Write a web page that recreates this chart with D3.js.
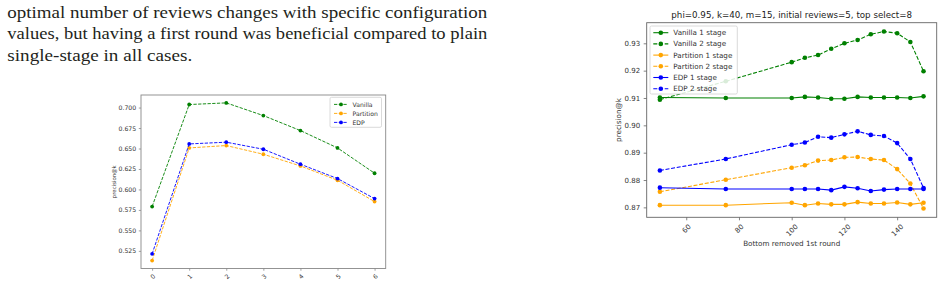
<!DOCTYPE html>
<html><head><meta charset="utf-8">
<script src="https://cdn.jsdelivr.net/npm/d3@7"></script>
<style>html,body{margin:0;padding:0;background:#fff;} svg{display:block;}</style>
</head><body><svg id="c" width="944" height="282"></svg>
<script>
// ---------- data ----------
const paragraphLines = [
  "optimal number of reviews changes with specific configuration",
  "values, but having a first round was beneficial compared to plain",
  "single-stage in all cases."
];

const leftCategories = [0, 1, 2, 3, 4, 5, 6];
const leftVanilla   = [0.5791, 0.7037, 0.7057, 0.6902, 0.6719, 0.6507, 0.6198];
const leftPartition = [0.5131, 0.6507, 0.6536, 0.6430, 0.6287, 0.6112, 0.5852];
const leftEDP       = [0.5213, 0.6556, 0.6577, 0.6491, 0.6308, 0.6133, 0.5888];
const leftYTicks = [0.525, 0.550, 0.575, 0.600, 0.625, 0.650, 0.675, 0.700];
const leftNames = ["Vanilla", "Partition", "EDP"];
const leftYLabel = "precision@k";

const rightX = [50, 75, 100, 105, 110, 115, 120, 125, 130, 135, 140, 145, 150];
const vanilla1   = [0.9102, 0.9100, 0.9100, 0.9104, 0.9102, 0.9097, 0.9097, 0.9104, 0.9102, 0.9102, 0.9102, 0.9100, 0.9106];
const vanilla2   = [0.9094, 0.9161, 0.9231, 0.9247, 0.9257, 0.9280, 0.9300, 0.9312, 0.9333, 0.9343, 0.9337, 0.9305, 0.9198];
const partition1 = [0.8708, 0.8708, 0.8717, 0.8708, 0.8714, 0.8711, 0.8711, 0.8719, 0.8714, 0.8714, 0.8718, 0.8711, 0.8717];
const partition2 = [0.8757, 0.8801, 0.8845, 0.8854, 0.8871, 0.8873, 0.8883, 0.8884, 0.8877, 0.8873, 0.8840, 0.8787, 0.8696];
const edp1       = [0.8772, 0.8767, 0.8767, 0.8767, 0.8767, 0.8763, 0.8775, 0.8770, 0.8760, 0.8765, 0.8767, 0.8767, 0.8767];
const edp2       = [0.8835, 0.8877, 0.8929, 0.8937, 0.8958, 0.8955, 0.8967, 0.8978, 0.8965, 0.8961, 0.8935, 0.8877, 0.8771];
const rightXTicks = [60, 80, 100, 120, 140];
const rightYTicks = [0.87, 0.88, 0.89, 0.90, 0.91, 0.92, 0.93];
const rightNames = ["Vanilla 1 stage", "Vanilla 2 stage", "Partition 1 stage", "Partition 2 stage", "EDP 1 stage", "EDP 2 stage"];
const rightTitle = "phi=0.95, k=40, m=15, initial reviews=5, top select=8";
const rightXLabel = "Bottom removed 1st round";
const rightYLabel = "precision@k";

// ---------- drawing ----------
const svg = d3.select("#c");
svg.append("rect").attr("width", 944).attr("height", 282).attr("fill", "#fff");

// paragraph
const para = svg.append("g").attr("font-family", "'Liberation Serif', 'DejaVu Serif', serif")
  .attr("font-size", 17).attr("fill", "#231f20");
const paraBase = [17.7, 39.4, 61.1];
const paraLen = [480, 480, 185];
paragraphLines.forEach((t, i) => {
  para.append("text").attr("x", 7.3).attr("y", paraBase[i]).text(t)
    .attr("textLength", paraLen[i]).attr("lengthAdjust", "spacingAndGlyphs");
});

const GREEN = "#008000", ORANGE = "#ffa500", BLUE = "#0000ff";
const FONT = "'DejaVu Sans', sans-serif";

function padded(values) {
  const [a, b] = d3.extent(values);
  const p = (b - a) * 0.05;
  return [a - p, b + p];
}

function drawChart(o) {
  const g = svg.append("g");
  const x = d3.scaleLinear().domain(o.xDomain).range([o.left, o.right]);
  const y = d3.scaleLinear().domain(o.yDomain).range([o.bottom, o.top]);

  // series
  o.series.forEach(s => {
    const line = d3.line().x((d, i) => x(o.xs[i])).y(d => y(d));
    g.append("path").datum(s.values).attr("d", line).attr("fill", "none")
      .attr("stroke", s.color).attr("stroke-width", o.lw)
      .attr("stroke-dasharray", s.dashed ? o.dash : null);
    g.selectAll(null).data(s.values).enter().append("circle")
      .attr("cx", (d, i) => x(o.xs[i])).attr("cy", d => y(d)).attr("r", o.r)
      .attr("fill", s.color);
  });

  // frame
  g.append("rect").attr("x", o.left).attr("y", o.top)
    .attr("width", o.right - o.left).attr("height", o.bottom - o.top)
    .attr("fill", "none").attr("stroke", o.frame).attr("stroke-width", 0.9);

  // y ticks
  const yAxis = d3.axisLeft(y).tickValues(o.yTicks).tickSize(o.tick).tickPadding(o.ypad)
    .tickFormat(o.yFormat);
  const ya = g.append("g").attr("transform", `translate(${o.left},0)`).call(yAxis);
  ya.select(".domain").remove();
  ya.selectAll("line").attr("stroke", o.frame).attr("stroke-width", 0.8);
  ya.selectAll("text").attr("font-family", FONT).attr("font-size", o.fs).attr("fill", "#333");

  // x ticks (rotated 45)
  const xAxis = d3.axisBottom(x).tickValues(o.xTicks).tickSize(o.tick).tickFormat(d3.format("d"));
  const xa = g.append("g").attr("transform", `translate(0,${o.bottom})`).call(xAxis);
  xa.select(".domain").remove();
  xa.selectAll("line").attr("stroke", o.frame).attr("stroke-width", 0.8);
  xa.selectAll("text").attr("font-family", FONT).attr("font-size", o.fs).attr("fill", "#333")
    .attr("text-anchor", "middle").attr("dominant-baseline", "central")
    .attr("dy", null)
    .each(function () {
      const w = this.getComputedTextLength();
      const h = o.fs * 1.17;
      const half = (w + h) * 0.7071 / 2;
      d3.select(this).attr("y", null)
        .attr("transform", `translate(0,${o.tick + o.xpad + half}) rotate(-45)`);
    });

  // y label
  g.append("text").attr("transform", `translate(${o.ylabelX},${(o.top + o.bottom) / 2}) rotate(-90)`)
    .attr("text-anchor", "middle").attr("dominant-baseline", "central")
    .attr("font-family", FONT).attr("font-size", o.lfs).attr("fill", "#333").text(o.yLabel);
  if (o.xLabel) {
    g.append("text").attr("x", (o.left + o.right) / 2).attr("y", o.xlabelY)
      .attr("text-anchor", "middle").attr("dominant-baseline", "central")
      .attr("font-family", FONT).attr("font-size", o.lfs).attr("fill", "#333").text(o.xLabel);
  }
  if (o.title) {
    g.append("text").attr("x", (o.left + o.right) / 2).attr("y", o.titleY)
      .attr("text-anchor", "middle").attr("dominant-baseline", "central")
      .attr("font-family", FONT).attr("font-size", o.tfs).attr("fill", "#222").text(o.title);
  }

  // legend
  const L = o.legend;
  g.append("rect").attr("x", L.x).attr("y", L.y).attr("width", L.w).attr("height", L.h)
    .attr("rx", 1.5).attr("fill", "#fff").attr("fill-opacity", 0.85)
    .attr("stroke", "#d0d0d0").attr("stroke-width", 0.8);
  o.series.forEach((s, i) => {
    const cy = L.y0 + i * L.dy;
    g.append("line").attr("x1", L.lx1).attr("x2", L.lx2).attr("y1", cy).attr("y2", cy)
      .attr("stroke", s.color).attr("stroke-width", o.lw)
      .attr("stroke-dasharray", s.dashed ? o.dash : null);
    g.append("circle").attr("cx", (L.lx1 + L.lx2) / 2).attr("cy", cy).attr("r", o.r).attr("fill", s.color);
    g.append("text").attr("x", L.tx).attr("y", cy).attr("dominant-baseline", "central")
      .attr("font-family", FONT).attr("font-size", L.fs).attr("fill", "#333").text(s.name);
  });
}

// left chart
drawChart({
  left: 141, right: 385.7, top: 95, bottom: 268.5,
  xs: leftCategories,
  xDomain: padded(leftCategories),
  yDomain: padded(leftVanilla.concat(leftPartition, leftEDP)),
  series: [
    { values: leftVanilla, color: GREEN, dashed: true, name: leftNames[0] },
    { values: leftPartition, color: ORANGE, dashed: true, name: leftNames[1] },
    { values: leftEDP, color: BLUE, dashed: true, name: leftNames[2] }
  ],
  lw: 0.9, dash: "3.3,1.4", r: 1.9, frame: "#888",
  yTicks: leftYTicks, xTicks: leftCategories, yFormat: d3.format(".3f"),
  tick: 2.2, ypad: 2.6, xpad: 1.6, fs: 6.2, lfs: 5.4,
  yLabel: leftYLabel, ylabelX: 113.5,
  legend: { x: 330, y: 97.3, w: 51.5, h: 30, y0: 104.4, dy: 9, lx1: 334, lx2: 348, tx: 352.5, fs: 6.1 }
});

// right chart
drawChart({
  left: 646.7, right: 936.7, top: 22.7, bottom: 217.3,
  xs: rightX,
  xDomain: padded(rightX),
  yDomain: padded(vanilla1.concat(vanilla2, partition1, partition2, edp1, edp2)),
  series: [
    { values: vanilla1, color: GREEN, dashed: false, name: rightNames[0] },
    { values: vanilla2, color: GREEN, dashed: true, name: rightNames[1] },
    { values: partition1, color: ORANGE, dashed: false, name: rightNames[2] },
    { values: partition2, color: ORANGE, dashed: true, name: rightNames[3] },
    { values: edp1, color: BLUE, dashed: false, name: rightNames[4] },
    { values: edp2, color: BLUE, dashed: true, name: rightNames[5] }
  ],
  lw: 1.08, dash: "4,1.7", r: 2.3, frame: "#666",
  yTicks: rightYTicks, xTicks: rightXTicks, yFormat: d3.format(".2f"),
  tick: 3, ypad: 3.5, xpad: 2.6, fs: 7.0, lfs: 7.2, tfs: 8.7,
  yLabel: rightYLabel, ylabelX: 618.3,
  xLabel: rightXLabel, xlabelY: 243.3,
  title: rightTitle, titleY: 15,
  legend: { x: 650, y: 26, w: 87.3, h: 68, y0: 32.7, dy: 11.2, lx1: 653.3, lx2: 668.3, tx: 673.3, fs: 7.2 }
});
</script></body></html>
